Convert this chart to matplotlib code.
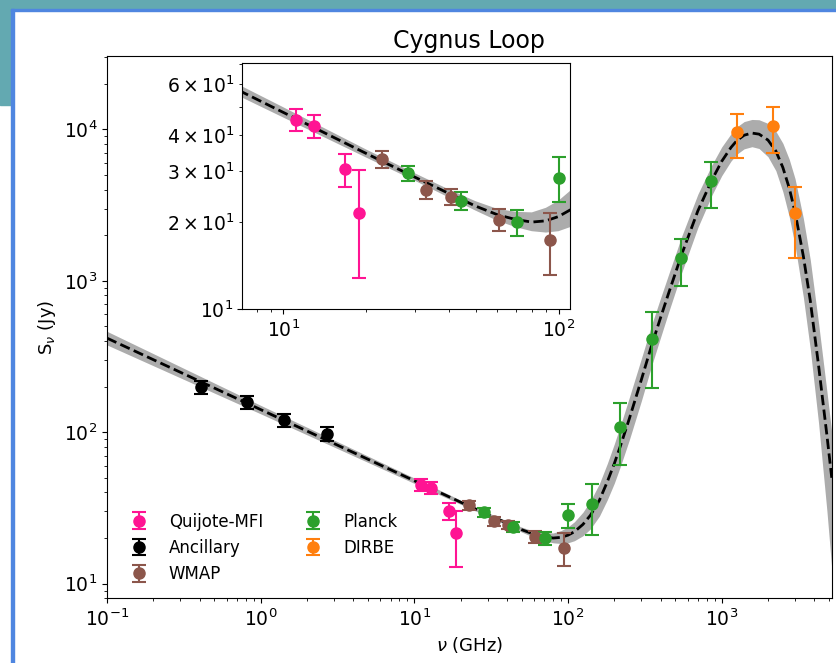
"""
Cygnus Loop SED with inset zoom on the low-frequency part
"""
import matplotlib
matplotlib.use("Agg")
import matplotlib.pyplot as plt
from matplotlib.patches import Rectangle

# flux densities (GHz, Jy)
quijote_freq = [11.1, 12.9, 16.8, 18.8]
quijote_flux = [45.1, 42.8, 30.4, 21.5]
quijote_err = [4.0, 3.9, 3.9, 8.7]

ancillary_freq = [0.408, 0.82, 1.42, 2.72]
ancillary_flux = [198, 158, 120, 98]
ancillary_err = [20, 16, 12, 10]

wmap_freq = [22.8, 33.0, 40.7, 60.7, 93.5]
wmap_flux = [33.0, 25.9, 24.5, 20.4, 17.3]
wmap_err = [2.3, 1.8, 1.6, 1.8, 4.2]

planck_freq = [28.4, 44.1, 70.4, 100, 143, 217, 353, 545, 857]
planck_flux = [29.5, 23.7, 20.0, 28.5, 33.4, 108, 410, 1406, 4560]
planck_err = [1.85, 1.7, 2.05, 5.1, 12.4, 47, 215, 480, 1530]

dirbe_freq = [1249, 2141, 2998]
dirbe_flux = [9570, 10520, 2790]
dirbe_err = [3150, 3500, 1380]

# best-fit model and its uncertainty band
model_freq = [0.1, 1, 10, 20, 30, 40, 50, 60, 70, 80, 90, 100, 110, 125,
              140, 160, 180, 200, 220, 250, 300, 350, 400, 450, 550, 700,
              865, 1000, 1150, 1257, 1400, 1574, 1750, 2000, 2250, 2500,
              2750, 3000, 3400, 3770, 4270, 4840, 5200]
model_flux = [418, 141, 47.8, 34.5, 28.6, 25.1, 22.7, 21.2, 20.4, 20.0,
              20.2, 20.9, 22.0, 24.6, 28.3, 35.5, 47, 62, 82, 122, 222, 375,
              570, 820, 1500, 2900, 4650, 6150, 7600, 8450, 9150, 9450, 9300,
              8500, 7200, 5600, 4100, 2850, 1450, 740, 275, 95, 50]
model_hi = [463.6, 150.4, 49.8, 35.6, 29.5, 25.9, 23.6, 22.2, 21.7, 21.6,
            22.4, 23.7, 25.6, 29.6, 35.2, 45.7, 62.0, 83.6, 111.9, 168.4,
            306.4, 511.7, 768.9, 1093, 1977, 3736, 5854, 7654, 9350, 10396,
            11257, 11626, 11574, 10950, 9713, 8094, 6350, 4730, 2579, 1378,
            524.0, 185.2, 99.8]
model_lo = [376.9, 132.2, 45.9, 33.4, 27.8, 24.3, 21.9, 20.2, 19.2, 18.6,
            18.4, 18.6, 19.2, 20.7, 23.0, 27.9, 35.7, 46.0, 60.1, 88.4,
            160.8, 274.8, 422.5, 614.9, 1138, 2251, 3694, 4942, 6177, 6868,
            7437, 7681, 7473, 6598, 5337, 3874, 2647, 1717, 778.7, 354.2,
            114.6, 30.0, 12.6]

datasets = [
    ("Quijote-MFI", quijote_freq, quijote_flux, quijote_err, "deeppink"),
    ("Ancillary", ancillary_freq, ancillary_flux, ancillary_err, "black"),
    ("WMAP", wmap_freq, wmap_flux, wmap_err, "tab:brown"),
    ("Planck", planck_freq, planck_flux, planck_err, "tab:green"),
    ("DIRBE", dirbe_freq, dirbe_flux, dirbe_err, "tab:orange"),
]


def draw_sed(ax, labels=True):
    # model band + best fit
    ax.fill_between(model_freq, model_lo, model_hi, color="gray",
                    alpha=0.65, lw=0)
    ax.plot(model_freq, model_flux, "k--", lw=2)
    for name, freq, flux, err, col in datasets:
        ax.errorbar(freq, flux, yerr=err, fmt="o", color=col, ms=8,
                    capsize=5, elinewidth=1.5, capthick=1.5,
                    label=name if labels else None)
    ax.set_xscale("log")
    ax.set_yscale("log")
    ax.tick_params(which="both", labelsize=13.5)


fig = plt.figure(figsize=(8.36, 6.63), dpi=100)

# backdrop around the figure panel
W, H = 836.0, 663.0
teal = "#63a9b1"
blue = "#4f86e0"
fig.add_artist(Rectangle((0, 1 - 8.5 / H), 1, 8.5 / H,
                         transform=fig.transFigure, color=teal, zorder=-5))
fig.add_artist(Rectangle((0, 1 - 105 / H), 11 / W, 105 / H,
                         transform=fig.transFigure, color=teal, zorder=-5))
fig.add_artist(Rectangle((11 / W, 1 - 11 / H), 1, 2.5 / H,
                         transform=fig.transFigure, color=blue, zorder=-4))
fig.add_artist(Rectangle((11 / W, 0), 3 / W, 1 - 8.5 / H,
                         transform=fig.transFigure, color=blue, zorder=-4))

# main panel
ax = fig.add_axes([0.128, 0.0976, 0.8669, 0.8179])
draw_sed(ax)
ax.set_xlim(0.1, 5200)
ax.set_ylim(8, 3.05e4)
ax.set_xlabel(r"$\nu$ (GHz)", fontsize=13)
ax.set_ylabel(r"S$_\nu$ (Jy)", fontsize=13)
ax.set_title("Cygnus Loop", fontsize=17)
ax.legend(loc="lower left", ncol=2, frameon=False, fontsize=12)

# inset zoom
axins = fig.add_axes([0.290, 0.5335, 0.3917, 0.372])
draw_sed(axins, labels=False)
axins.set_xlim(7.1, 110)
axins.set_ylim(10, 71)

fig.savefig("out.png", dpi=100)
